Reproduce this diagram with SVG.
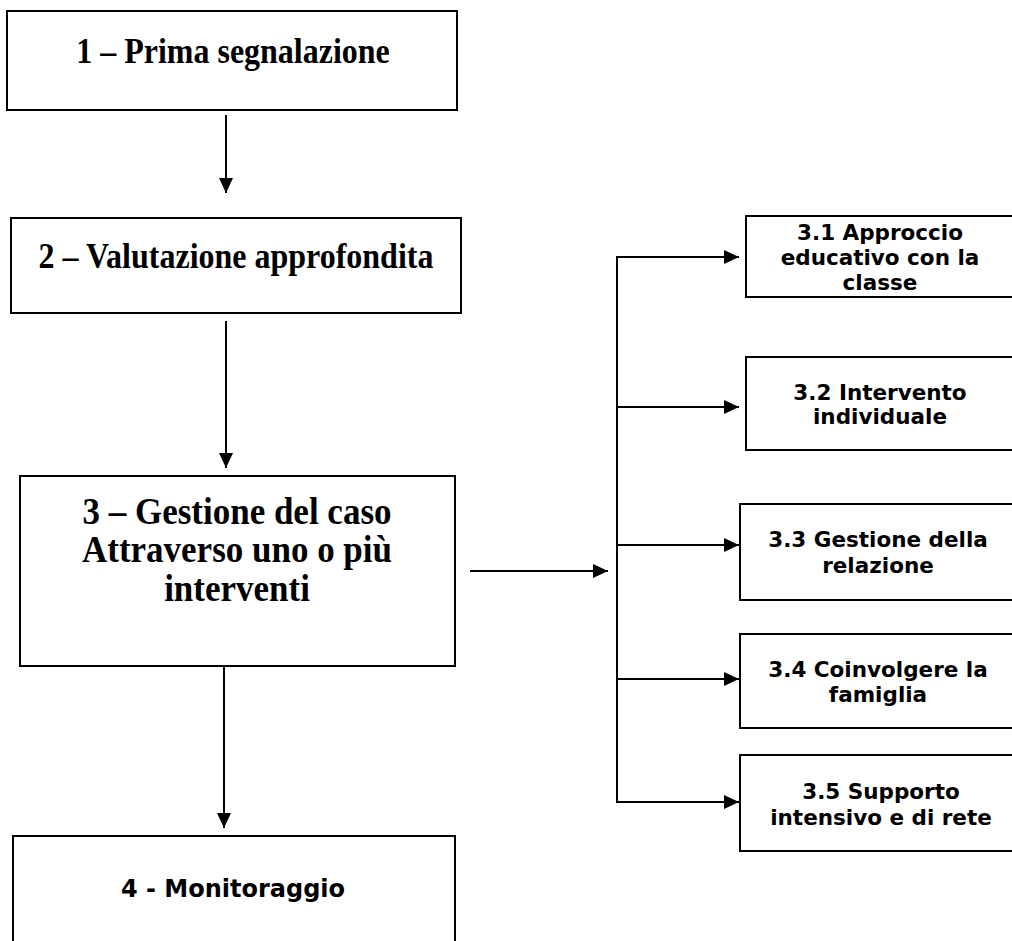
<svg xmlns="http://www.w3.org/2000/svg" width="1012" height="941" viewBox="0 0 1012 941">
<defs>
<style>
.box{fill:#fff;stroke:#000;stroke-width:2}
.ser{font-family:"Liberation Serif","Times New Roman",serif;font-weight:bold;font-size:32px;fill:#000;text-anchor:middle}
.s3{font-size:35px}
.san{font-family:"DejaVu Sans",Verdana,sans-serif;font-weight:bold;font-size:21.5px;fill:#000;text-anchor:middle}
.big{font-size:24px}
.ln{stroke:#000;stroke-width:2;fill:none}
</style>
<marker id="ah" markerUnits="userSpaceOnUse" markerWidth="15" markerHeight="14" refX="15" refY="7" orient="auto">
<path d="M0,0 L15,7 L0,14 z" fill="#000"/>
</marker>
</defs>
<rect width="1012" height="941" fill="#fff"/>
<g id="connectors">
<line class="ln" x1="226" y1="115" x2="226" y2="193" marker-end="url(#ah)"/>
<line class="ln" x1="226" y1="321" x2="226" y2="468" marker-end="url(#ah)"/>
<line class="ln" x1="224" y1="666" x2="224" y2="828" marker-end="url(#ah)"/>
<line class="ln" x1="470" y1="571" x2="608" y2="571" marker-end="url(#ah)"/>
<line class="ln" x1="617" y1="256" x2="617" y2="803"/>
<line class="ln" x1="616" y1="257" x2="739" y2="257" marker-end="url(#ah)"/>
<line class="ln" x1="617" y1="407" x2="739" y2="407" marker-end="url(#ah)"/>
<line class="ln" x1="617" y1="545" x2="739" y2="545" marker-end="url(#ah)"/>
<line class="ln" x1="617" y1="679" x2="739" y2="679" marker-end="url(#ah)"/>
<line class="ln" x1="616" y1="802" x2="739" y2="802" marker-end="url(#ah)"/>
</g>
<g id="n1">
<rect class="box" x="7" y="11" width="450" height="99"/>
<text class="ser" transform="translate(233,63) scale(1,1.15)">1 – Prima segnalazione</text>
</g>
<g id="n2">
<rect class="box" x="11" y="218" width="450" height="95"/>
<text class="ser" transform="translate(236,268) scale(1,1.15)">2 – Valutazione approfondita</text>
</g>
<g id="n3">
<rect class="box" x="20" y="476" width="435" height="190"/>
<text class="ser s3" transform="translate(237,524) scale(1,1.08)">3 – Gestione del caso</text>
<text class="ser s3" transform="translate(237,562) scale(1,1.08)">Attraverso uno o più</text>
<text class="ser s3" transform="translate(237,601) scale(1,1.08)">interventi</text>
</g>
<g id="n4">
<rect class="box" x="13" y="836" width="442" height="120"/>
<text class="san big" x="233" y="897">4 - Monitoraggio</text>
</g>
<g id="n31">
<rect class="box" x="746" y="216" width="290" height="81"/>
<text class="san" x="880" y="240">3.1 Approccio</text>
<text class="san" x="880" y="265">educativo con la</text>
<text class="san" x="880" y="290">classe</text>
</g>
<g id="n32">
<rect class="box" x="746" y="357" width="290" height="93"/>
<text class="san" x="880" y="400">3.2 Intervento</text>
<text class="san" x="880" y="424">individuale</text>
</g>
<g id="n33">
<rect class="box" x="740" y="504" width="296" height="96"/>
<text class="san" x="878" y="547">3.3 Gestione della</text>
<text class="san" x="878" y="573">relazione</text>
</g>
<g id="n34">
<rect class="box" x="740" y="634" width="296" height="94"/>
<text class="san" x="878" y="677">3.4 Coinvolgere la</text>
<text class="san" x="878" y="702">famiglia</text>
</g>
<g id="n35">
<rect class="box" x="740" y="755" width="296" height="96"/>
<text class="san" x="881" y="799">3.5 Supporto</text>
<text class="san" x="881" y="825">intensivo e di rete</text>
</g>
</svg>
